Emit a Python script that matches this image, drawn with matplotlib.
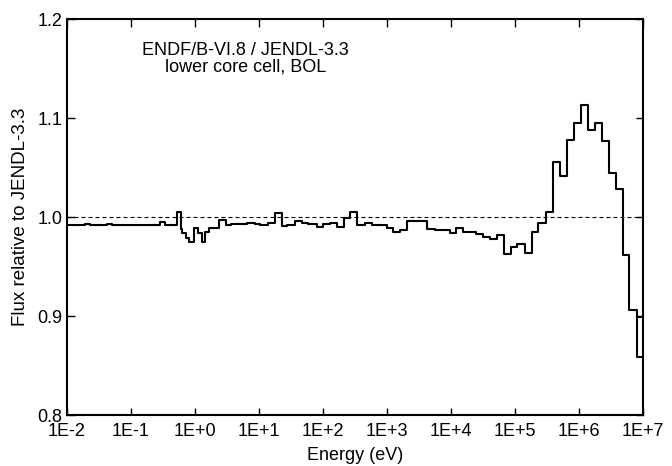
import matplotlib
matplotlib.use("Agg")
import matplotlib.pyplot as plt
import numpy as np

plt.rcParams['font.family'] = ['Liberation Sans', 'DejaVu Sans']

# group boundaries (eV), first entry is the lower edge of the first group
energy = [1.0e-2, 0.0191, 0.0229, 0.0422, 0.0505, 0.138, 0.284, 0.34, 0.52, 0.60,
          0.63, 0.72, 0.81, 0.975, 1.10, 1.27, 1.43, 1.67, 2.4, 3.05,
          3.65, 6.4, 8.66, 10.4, 14.0, 17.8, 22.6, 27.7, 36.5, 46.5,
          58.9, 79.7, 98.9, 128.5, 167, 213, 264, 344, 453, 577,
          778, 989, 1254, 1596, 2074, 2942, 4266, 5520, 7100, 9640,
          11970, 15240, 19320, 24600, 32000, 40700, 52800, 67300, 85700, 108700,
          143200, 182300, 231100, 301700, 388300, 505000, 656000, 835000, 1.074e6, 1.367e6,
          1.778e6, 2.264e6, 2.944e6, 3.786e6, 4.82e6, 6.04e6, 7.98e6, 1.0e7]

# flux ratio in each group
ratio = [0.9922, 0.9928, 0.9922, 0.9928, 0.9922, 0.9920, 0.9945, 0.9920, 1.0048,
         0.9878, 0.9838, 0.9787, 0.9749, 0.9891, 0.9841, 0.9749, 0.9851, 0.9885, 0.9970,
         0.9919, 0.9926, 0.9942, 0.9929, 0.9919, 0.9942, 1.0037, 0.9909, 0.9919, 0.9963,
         0.9936, 0.9929, 0.9895, 0.9929, 0.9942, 0.9902, 0.9987, 1.0048, 0.9919, 0.9942,
         0.9919, 0.9915, 0.9885, 0.9851, 0.9868, 0.9959, 0.9962, 0.9878, 0.9870, 0.9868,
         0.9841, 0.9885, 0.9851, 0.9845, 0.9827, 0.9794, 0.9774, 0.9817, 0.9624, 0.9699,
         0.9723, 0.9641, 0.9845, 0.9942, 1.0048, 1.0558, 1.0416, 1.0782, 1.0951, 1.1128,
         1.0883, 1.0951, 1.0772, 1.0444, 1.0284, 0.9621, 0.9063, 0.8582]

# stray segment over the last group
tail_e = [7.98e6, 1.0e7]
tail_v = [0.8988, 0.8988]

xticks = [1e-2, 1e-1, 1e0, 1e1, 1e2, 1e3, 1e4, 1e5, 1e6, 1e7]
xlabels = ['1E-2', '1E-1', '1E+0', '1E+1', '1E+2', '1E+3', '1E+4', '1E+5', '1E+6', '1E+7']
yticks = [0.8, 0.9, 1.0, 1.1, 1.2]

fig = plt.figure(figsize=(6.72, 4.66), dpi=100)
ax = fig.add_axes([0.0997, 0.1094, 0.8574, 0.8498])

ys = list(ratio) + [ratio[-1]]
ax.step(energy, ys, where='post', color='black', lw=1.5)
ax.plot(tail_e, tail_v, color='black', lw=1.5)
ax.axhline(1.0, color='black', lw=0.8, ls=(0, (3.6, 2.7)))

ax.set_xscale('log')
ax.set_xlim(1e-2, 1e7)
ax.set_ylim(0.8, 1.2)
ax.set_xticks(xticks)
ax.set_xticklabels(xlabels)
ax.xaxis.set_minor_locator(matplotlib.ticker.NullLocator())
ax.set_yticks(yticks)
ax.set_yticklabels(['0.8', '0.9', '1.0', '1.1', '1.2'])
ax.tick_params(direction='in', length=5.4, width=1, top=True, right=True,
               labelsize=13)
ax.tick_params(axis='x', pad=6)
ax.tick_params(axis='y', pad=3.5)
for s in ax.spines.values():
    s.set_linewidth(1.5)

ax.set_xlabel('Energy (eV)', fontsize=13, labelpad=5)
ax.set_ylabel('Flux relative to JENDL-3.3', fontsize=13.5, labelpad=6)

ax.text(0.31, 0.90, 'ENDF/B-VI.8 / JENDL-3.3\nlower core cell, BOL',
        transform=ax.transAxes, ha='center', va='center', fontsize=13,
        linespacing=0.98)

fig.savefig('out.png', dpi=100)
